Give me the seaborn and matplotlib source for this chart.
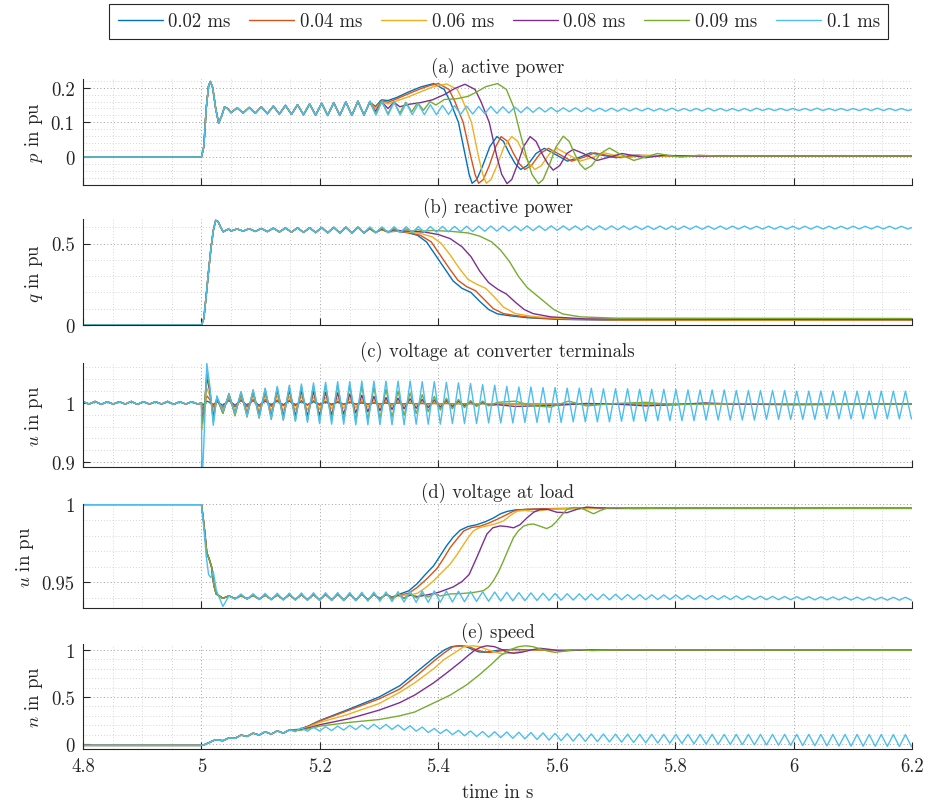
import numpy as np
import matplotlib
matplotlib.use("Agg")
import matplotlib.pyplot as plt
from matplotlib.ticker import MultipleLocator, FuncFormatter, FixedLocator
import seaborn as sns

# ---------------------------------------------------------------- labels
series_labels = ["0.02 ms", "0.04 ms", "0.06 ms", "0.08 ms", "0.09 ms", "0.1 ms"]
series_colors = ["#0072BD", "#D95319", "#EDB120", "#7E2F8E", "#77AC30", "#4DBEEE"]
panel_titles = ["(a) active power", "(b) reactive power",
                "(c) voltage at converter terminals", "(d) voltage at load", "(e) speed"]
panel_ylabels = [r"$p$ in pu", r"$q$ in pu", r"$u$ in pu", r"$u$ in pu", r"$n$ in pu"]
x_ticks = [4.8, 5.0, 5.2, 5.4, 5.6, 5.8, 6.0, 6.2]
y_ticks = [[0, 0.1, 0.2], [0, 0.5], [0.9, 1.0], [0.95, 1.0], [0, 0.5, 1.0]]
y_limits = [(-0.081, 0.225), (0.0, 0.65), (0.8915, 1.0675), (0.9335, 1.0003), (-0.053, 1.064)]
y_minor = [0.02, 0.1, 0.02, 0.01, 0.1]

HALF = 0.0102   # half period of the 49 Hz ripple: peaks/troughs read at these instants

# ================================================================ (a) p
a_pre = [(4.80, 0.0), (5.000, 0.0), (5.004, 0.03), (5.008, 0.14), (5.012, 0.205), (5.015, 0.218),
         (5.019, 0.20), (5.024, 0.14), (5.029, 0.098), (5.034, 0.118), (5.039, 0.145), (5.044, 0.14)]
a_com_lo = [0.128, 0.127, 0.126, 0.125, 0.124, 0.123, 0.122, 0.121, 0.120, 0.120, 0.120, 0.121]
a_com_hi = [0.142, 0.143, 0.145, 0.147, 0.149, 0.151, 0.153, 0.155, 0.157, 0.159, 0.161]
a_cy_hi = [0.162, 0.161, 0.159, 0.156, 0.153, 0.151, 0.149, 0.148, 0.147, 0.146,
           0.146, 0.145, 0.144, 0.144, 0.143, 0.143, 0.142, 0.142, 0.142, 0.141,
           0.141, 0.141, 0.141, 0.141, 0.140, 0.141, 0.140, 0.140, 0.141, 0.140,
           0.140, 0.140, 0.141, 0.140, 0.140, 0.140, 0.140, 0.141, 0.140, 0.140,
           0.140, 0.140, 0.141, 0.140, 0.140]
a_cy_lo = [0.121, 0.121, 0.121, 0.122, 0.122, 0.122, 0.123, 0.123, 0.124, 0.125,
           0.126, 0.127, 0.128, 0.129, 0.130, 0.130, 0.131, 0.131, 0.132, 0.132,
           0.132, 0.133, 0.133, 0.133, 0.133, 0.133, 0.133, 0.133, 0.133, 0.133,
           0.133, 0.133, 0.134, 0.134, 0.134, 0.134, 0.134, 0.134, 0.134, 0.134,
           0.134, 0.134, 0.134, 0.134, 0.134]
a_cy_end = [(6.2, 0.137)]
a_blue = [(5.284, 0.158), (5.294, 0.146), (5.304, 0.165), (5.315, 0.163), (5.33, 0.172), (5.35, 0.188),
          (5.37, 0.202), (5.392, 0.212), (5.41, 0.195), (5.42, 0.16), (5.434, 0.10), (5.446, 0.0),
          (5.452, -0.05), (5.457, -0.076), (5.465, -0.065), (5.475, -0.025), (5.487, 0.03), (5.499, 0.059),
          (5.51, 0.045), (5.52, 0.01), (5.53, -0.02), (5.539, -0.036), (5.55, -0.025), (5.565, 0.01),
          (5.579, 0.025), (5.595, 0.01), (5.618, -0.012), (5.64, 0.0), (5.657, 0.012), (5.68, 0.004),
          (5.70, -0.002), (5.73, 0.005), (5.76, 0.003), (6.2, 0.003)]
a_red = [(5.284, 0.157), (5.294, 0.144), (5.304, 0.162), (5.315, 0.158), (5.33, 0.168), (5.35, 0.183),
         (5.37, 0.197), (5.385, 0.206), (5.40, 0.212), (5.418, 0.195), (5.428, 0.16), (5.442, 0.10),
         (5.455, 0.0), (5.462, -0.05), (5.468, -0.076), (5.476, -0.065), (5.486, -0.025), (5.497, 0.03),
         (5.506, 0.059), (5.517, 0.045), (5.527, 0.01), (5.537, -0.02), (5.546, -0.036), (5.557, -0.025),
         (5.572, 0.01), (5.586, 0.025), (5.602, 0.01), (5.625, -0.012), (5.647, 0.0), (5.664, 0.012),
         (5.687, 0.004), (5.707, -0.002), (5.737, 0.005), (5.767, 0.003), (6.2, 0.003)]
a_yellow = [(5.284, 0.156), (5.294, 0.140), (5.304, 0.160), (5.315, 0.153), (5.33, 0.162), (5.35, 0.174),
            (5.37, 0.188), (5.39, 0.202), (5.414, 0.211), (5.432, 0.195), (5.442, 0.16), (5.456, 0.10),
            (5.468, 0.0), (5.475, -0.05), (5.481, -0.076), (5.489, -0.065), (5.499, -0.025), (5.511, 0.03),
            (5.524, 0.059), (5.534, 0.045), (5.544, 0.01), (5.554, -0.02), (5.563, -0.036), (5.574, -0.025),
            (5.588, 0.01), (5.60, 0.025), (5.616, 0.01), (5.64, -0.012), (5.662, 0.0), (5.68, 0.012),
            (5.70, 0.004), (5.72, -0.002), (5.75, 0.005), (5.78, 0.003), (6.2, 0.003)]
a_purple = [(5.284, 0.158), (5.294, 0.132), (5.304, 0.160), (5.315, 0.140), (5.325, 0.158), (5.335, 0.145),
            (5.35, 0.152), (5.37, 0.157), (5.39, 0.165), (5.41, 0.18), (5.428, 0.198), (5.445, 0.21),
            (5.462, 0.195), (5.472, 0.16), (5.486, 0.10), (5.499, 0.0), (5.507, -0.05), (5.516, -0.077),
            (5.524, -0.065), (5.533, -0.025), (5.544, 0.03), (5.555, 0.059), (5.565, 0.045), (5.575, 0.01),
            (5.585, -0.02), (5.594, -0.038), (5.605, -0.025), (5.617, 0.01), (5.628, 0.022), (5.645, 0.01),
            (5.668, -0.01), (5.69, 0.0), (5.71, 0.01), (5.73, 0.004), (5.75, -0.002), (5.78, 0.005),
            (5.81, 0.003), (6.2, 0.003)]
a_green = [(5.284, 0.160), (5.294, 0.124), (5.304, 0.160), (5.315, 0.125), (5.325, 0.158), (5.335, 0.127),
           (5.345, 0.158), (5.355, 0.130), (5.365, 0.157), (5.375, 0.135), (5.386, 0.16), (5.396, 0.150),
           (5.41, 0.166), (5.43, 0.168), (5.45, 0.175), (5.465, 0.188), (5.48, 0.203), (5.50, 0.212),
           (5.515, 0.195), (5.527, 0.145), (5.538, 0.07), (5.549, 0.0), (5.558, -0.05), (5.569, -0.077),
           (5.577, -0.065), (5.587, -0.025), (5.599, 0.03), (5.611, 0.06), (5.621, 0.045), (5.63, 0.01),
           (5.639, -0.02), (5.648, -0.036), (5.659, -0.025), (5.674, 0.01), (5.689, 0.026), (5.705, 0.01),
           (5.73, -0.01), (5.75, 0.0), (5.77, 0.01), (5.79, 0.004), (5.81, 0.0), (5.84, 0.005),
           (5.87, 0.003), (6.2, 0.003)]

# ================================================================ (b) q
b_pre = [(4.80, 0.0), (5.000, 0.0), (5.004, 0.04), (5.008, 0.18), (5.012, 0.33), (5.016, 0.47),
         (5.020, 0.58), (5.024, 0.642), (5.028, 0.635), (5.033, 0.595), (5.037, 0.572), (5.042, 0.583),
         (5.046, 0.588)]
b_com_lo = [0.577, 0.576, 0.574, 0.573, 0.571, 0.570, 0.568, 0.567, 0.566, 0.565, 0.564, 0.564]
b_com_hi = [0.589, 0.591, 0.592, 0.594, 0.595, 0.596, 0.597, 0.598, 0.599, 0.600, 0.600]
b_cy_hi = [0.602, 0.602, 0.603, 0.603, 0.604, 0.604, 0.605, 0.605, 0.606, 0.606,
           0.607, 0.607, 0.607, 0.608, 0.608, 0.608, 0.608, 0.608, 0.608, 0.608,
           0.608, 0.608, 0.607, 0.607, 0.607, 0.607, 0.607, 0.607, 0.607, 0.607,
           0.607, 0.607, 0.606, 0.606, 0.606, 0.606, 0.606, 0.606, 0.606, 0.606,
           0.606, 0.606, 0.606, 0.606, 0.606]
b_cy_lo = [0.565, 0.566, 0.567, 0.568, 0.569, 0.570, 0.572, 0.573, 0.574, 0.575,
           0.576, 0.577, 0.578, 0.579, 0.580, 0.581, 0.582, 0.582, 0.583, 0.584,
           0.584, 0.585, 0.585, 0.586, 0.586, 0.586, 0.587, 0.587, 0.587, 0.587,
           0.588, 0.588, 0.588, 0.588, 0.588, 0.588, 0.588, 0.589, 0.589, 0.589,
           0.589, 0.589, 0.589, 0.589, 0.589]
b_cy_end = [(6.2, 0.598)]
b_blue = [(5.284, 0.592), (5.294, 0.568), (5.304, 0.585), (5.315, 0.572), (5.33, 0.575), (5.35, 0.565),
          (5.365, 0.55), (5.38, 0.51), (5.395, 0.43), (5.41, 0.35), (5.425, 0.27), (5.44, 0.225),
          (5.455, 0.20), (5.47, 0.145), (5.485, 0.095), (5.50, 0.068), (5.52, 0.057), (5.55, 0.045),
          (5.60, 0.035), (5.70, 0.03), (6.2, 0.03)]
b_red = [(5.284, 0.592), (5.294, 0.568), (5.304, 0.585), (5.315, 0.573), (5.33, 0.577), (5.35, 0.568),
         (5.37, 0.55), (5.388, 0.51), (5.403, 0.43), (5.418, 0.35), (5.433, 0.275), (5.448, 0.235),
         (5.463, 0.21), (5.478, 0.155), (5.493, 0.10), (5.51, 0.07), (5.53, 0.058), (5.56, 0.045),
         (5.62, 0.035), (5.72, 0.03), (6.2, 0.03)]
b_yellow = [(5.284, 0.592), (5.294, 0.568), (5.304, 0.586), (5.315, 0.573), (5.33, 0.578), (5.35, 0.57),
            (5.37, 0.562), (5.39, 0.54), (5.405, 0.5), (5.42, 0.43), (5.435, 0.35), (5.45, 0.28),
            (5.465, 0.25), (5.48, 0.225), (5.495, 0.17), (5.51, 0.11), (5.53, 0.07), (5.56, 0.052),
            (5.60, 0.042), (5.70, 0.033), (6.2, 0.03)]
b_purple = [(5.284, 0.593), (5.294, 0.567), (5.304, 0.590), (5.315, 0.570), (5.325, 0.584), (5.34, 0.577),
            (5.36, 0.575), (5.38, 0.568), (5.40, 0.555), (5.42, 0.53), (5.44, 0.48), (5.455, 0.42),
            (5.47, 0.33), (5.485, 0.26), (5.50, 0.22), (5.515, 0.19), (5.53, 0.14), (5.545, 0.095),
            (5.56, 0.07), (5.59, 0.05), (5.65, 0.037), (6.2, 0.033)]
b_green = [(5.284, 0.598), (5.294, 0.566), (5.304, 0.597), (5.315, 0.567), (5.325, 0.594), (5.335, 0.570),
           (5.345, 0.590), (5.355, 0.573), (5.365, 0.586), (5.375, 0.576), (5.39, 0.58), (5.42, 0.575),
           (5.45, 0.565), (5.47, 0.545), (5.49, 0.51), (5.505, 0.46), (5.52, 0.39), (5.535, 0.30),
           (5.55, 0.23), (5.565, 0.185), (5.58, 0.14), (5.595, 0.095), (5.61, 0.068), (5.64, 0.05),
           (5.70, 0.042), (6.2, 0.04)]

# ================================================================ (c) u terminals
c_pre_hi = [1.002, 1.0025, 1.002, 1.002, 1.0025, 1.002, 1.002, 1.0025, 1.002, 1.002]
c_pre_lo = [0.998, 0.9975, 0.998, 0.998, 0.9975, 0.998, 0.998, 0.9975, 0.998, 0.998]
c_fault = {
    "blue":   [(5.0, 1.0), (5.001, 0.996), (5.005, 0.998), (5.009, 1.003), (5.014, 1.001), (5.02, 0.997), (5.026, 1.002)],
    "red":    [(5.0, 1.0), (5.001, 0.988), (5.005, 0.995), (5.009, 1.012), (5.014, 1.006), (5.02, 0.993), (5.026, 1.004)],
    "yellow": [(5.0, 1.0), (5.001, 0.955), (5.004, 0.975), (5.009, 1.025), (5.014, 1.013), (5.02, 0.985), (5.026, 1.006)],
    "purple": [(5.0, 1.0), (5.001, 0.975), (5.004, 0.985), (5.009, 1.043), (5.014, 1.02), (5.02, 0.975), (5.026, 1.008)],
    "green":  [(5.0, 1.0), (5.001, 0.965), (5.004, 0.98), (5.009, 1.052), (5.014, 1.025), (5.02, 0.968), (5.026, 1.010)],
    "cyan":   [(5.0, 1.0), (5.0008, 0.86), (5.004, 0.93), (5.009, 1.067), (5.014, 1.03), (5.02, 0.962), (5.026, 1.012)],
}
c_lo = {
    "blue":   [0.996, 0.996, 0.996, 0.996, 0.997, 0.997, 0.997, 0.997, 0.998, 0.998, 0.998, 0.998,
               0.998, 0.998, 0.998, 0.998, 0.998, 0.998, 0.998, 0.998, 0.998, 0.998, 0.998],
    "red":    [0.992, 0.993, 0.993, 0.994, 0.994, 0.995, 0.995, 0.996, 0.996, 0.996, 0.997, 0.997,
               0.997, 0.997, 0.998, 0.998, 0.998, 0.998, 0.998, 0.998, 0.998, 0.998, 0.998],
    "yellow": [0.988, 0.987, 0.987, 0.987, 0.987, 0.987, 0.988, 0.988, 0.989, 0.990, 0.991, 0.992,
               0.993, 0.994, 0.995, 0.995, 0.996, 0.996, 0.997, 0.997, 0.997, 0.998, 0.998],
    "purple": [0.983, 0.981, 0.980, 0.979, 0.978, 0.978, 0.978, 0.978, 0.979, 0.980, 0.981, 0.983,
               0.985, 0.987, 0.989, 0.990, 0.991, 0.992, 0.993, 0.994, 0.995, 0.995, 0.996],
    "green":  [0.982, 0.978, 0.976, 0.974, 0.972, 0.971, 0.970, 0.970, 0.970, 0.970, 0.970, 0.971,
               0.972, 0.974, 0.976, 0.979, 0.982, 0.985, 0.988, 0.990, 0.992, 0.994, 0.995],
    "cyan":   [0.986, 0.982, 0.978, 0.975, 0.973, 0.971, 0.969, 0.967, 0.965, 0.964,
               0.964, 0.963, 0.963, 0.963, 0.963, 0.963, 0.964, 0.964, 0.964, 0.965,
               0.965, 0.965, 0.966, 0.966, 0.966, 0.967, 0.967, 0.967, 0.967, 0.968,
               0.968, 0.968, 0.968, 0.969, 0.969, 0.969, 0.970, 0.970, 0.970, 0.970,
               0.971, 0.971, 0.971, 0.971, 0.971, 0.972, 0.972, 0.972, 0.972, 0.972,
               0.973, 0.973, 0.973, 0.973, 0.973, 0.973, 0.973, 0.973],
}
c_hi = {
    "blue":   [1.004, 1.004, 1.004, 1.003, 1.003, 1.003, 1.002, 1.002, 1.001, 1.001, 1.001,
               1.000, 1.000, 1.000, 1.000, 1.000, 1.000, 1.000, 1.000, 0.999, 0.999, 0.999],
    "red":    [1.007, 1.007, 1.006, 1.006, 1.005, 1.005, 1.004, 1.004, 1.003, 1.003, 1.002,
               1.002, 1.001, 1.001, 1.000, 1.000, 0.999, 0.999, 0.999, 0.999, 0.999, 0.999],
    "yellow": [1.010, 1.011, 1.012, 1.012, 1.012, 1.011, 1.011, 1.010, 1.009, 1.008, 1.007,
               1.006, 1.005, 1.004, 1.003, 1.002, 1.002, 1.001, 1.001, 1.000, 1.000, 0.999],
    "purple": [1.015, 1.017, 1.019, 1.020, 1.021, 1.021, 1.020, 1.019, 1.018, 1.017, 1.015,
               1.013, 1.011, 1.009, 1.008, 1.007, 1.006, 1.005, 1.004, 1.003, 1.002, 1.001],
    "green":  [1.016, 1.019, 1.022, 1.024, 1.026, 1.027, 1.028, 1.029, 1.030, 1.030, 1.029,
               1.028, 1.026, 1.023, 1.020, 1.017, 1.014, 1.011, 1.008, 1.006, 1.004, 1.003],
    "cyan":   [1.014, 1.018, 1.022, 1.025, 1.028, 1.030, 1.032, 1.034, 1.035, 1.036,
               1.036, 1.037, 1.037, 1.037, 1.037, 1.037, 1.036, 1.036, 1.035, 1.034,
               1.033, 1.031, 1.030, 1.028, 1.027, 1.027, 1.026, 1.026, 1.025, 1.025,
               1.025, 1.024, 1.024, 1.024, 1.023, 1.023, 1.023, 1.023, 1.022, 1.022,
               1.022, 1.022, 1.021, 1.021, 1.021, 1.021, 1.021, 1.020, 1.020, 1.020,
               1.020, 1.020, 1.020, 1.020, 1.020, 1.020, 1.020],
}
c_tail = {
    "blue":   [(5.52, 0.998), (5.6, 0.998), (6.2, 0.998)],
    "red":    [(5.52, 0.998), (6.2, 0.998)],
    "yellow": [(5.52, 0.998), (6.2, 0.998)],
    "purple": [(5.50, 0.997), (5.53, 0.994), (5.56, 0.995), (5.60, 0.996), (5.65, 0.999), (5.70, 0.998),
               (5.75, 0.995), (5.80, 0.997), (5.85, 1.0), (5.9, 0.998), (6.0, 0.997), (6.2, 0.998)],
    "green":  [(5.50, 1.001), (5.53, 1.003), (5.56, 0.995), (5.59, 0.993), (5.62, 1.003), (5.65, 0.995),
               (5.70, 0.999), (5.75, 1.001), (5.8, 0.997), (5.9, 0.999), (6.0, 0.998), (6.2, 0.998)],
    "cyan":   [],
}

# ================================================================ (d) u load
d_pre = [(4.8, 1.0), (5.0, 1.0), (5.004, 0.988), (5.009, 0.969), (5.013, 0.965), (5.017, 0.96),
         (5.021, 0.948), (5.025, 0.9425)]
d_cy_pre = [(4.8, 1.0), (5.0, 1.0), (5.004, 0.985), (5.008, 0.967), (5.012, 0.955), (5.016, 0.953),
            (5.02, 0.957), (5.025, 0.945)]
d_com_lo = [0.9397, 0.9395, 0.9394, 0.9392, 0.9391, 0.9390, 0.9389, 0.9388, 0.9387, 0.9387, 0.9386, 0.9386, 0.9387]
d_com_hi = [0.9413, 0.9415, 0.9417, 0.9418, 0.9419, 0.9420, 0.9421, 0.9422, 0.9423, 0.9424, 0.9425, 0.9426]
d_cy_lo = [0.9345, 0.9392, 0.9390, 0.9388, 0.9386, 0.9385, 0.9384, 0.9383, 0.9383, 0.9382,
           0.9381, 0.9380, 0.9379, 0.9378, 0.9376, 0.9373, 0.9371, 0.9371, 0.9372, 0.9373,
           0.9375, 0.9377, 0.9378, 0.9380, 0.9381, 0.9382, 0.9383, 0.9384, 0.9385, 0.9386,
           0.9386, 0.9387, 0.9387, 0.9388, 0.9388, 0.9388, 0.9389, 0.9389, 0.9389, 0.9389,
           0.9389, 0.9389, 0.9389, 0.9389, 0.9389, 0.9388, 0.9388, 0.9388, 0.9388, 0.9387,
           0.9387, 0.9387, 0.9386, 0.9386, 0.9386, 0.9385, 0.9385, 0.9385]
d_cy_hi = [0.9412, 0.9425, 0.9427, 0.9429, 0.9430, 0.9431, 0.9432, 0.9433, 0.9433, 0.9434,
           0.9435, 0.9436, 0.9437, 0.9438, 0.9440, 0.9443, 0.9445, 0.9445, 0.9444, 0.9443,
           0.9441, 0.9439, 0.9438, 0.9436, 0.9434, 0.9432, 0.9430, 0.9428, 0.9427, 0.9426,
           0.9425, 0.9424, 0.9423, 0.9422, 0.9421, 0.9420, 0.9419, 0.9418, 0.9417, 0.9416,
           0.9415, 0.9414, 0.9413, 0.9412, 0.9411, 0.9410, 0.9409, 0.9408, 0.9408, 0.9407,
           0.9406, 0.9406, 0.9405, 0.9405, 0.9404, 0.9404, 0.9404]
d_tail = {
    "blue":   [(5.291, 0.9424), (5.301, 0.9395), (5.312, 0.9422), (5.322, 0.9405), (5.335, 0.9425), (5.35, 0.9445),
               (5.364, 0.949), (5.378, 0.955), (5.392, 0.9606), (5.403, 0.967), (5.414, 0.9735), (5.425, 0.979),
               (5.437, 0.9835), (5.45, 0.9858), (5.465, 0.987), (5.48, 0.989), (5.493, 0.9913), (5.505, 0.994),
               (5.516, 0.9955), (5.53, 0.9965), (5.55, 0.9968), (5.58, 0.9972), (5.65, 0.9975), (6.2, 0.9975)],
    "red":    [(5.291, 0.9424), (5.301, 0.9395), (5.312, 0.9422), (5.322, 0.9403), (5.335, 0.9418), (5.35, 0.943),
               (5.364, 0.9466), (5.38, 0.952), (5.398, 0.959), (5.41, 0.966), (5.42, 0.9723), (5.432, 0.978),
               (5.443, 0.983), (5.456, 0.9852), (5.47, 0.986), (5.485, 0.988), (5.499, 0.9904), (5.513, 0.993),
               (5.527, 0.9957), (5.545, 0.9968), (5.561, 0.997), (5.6, 0.9974), (5.65, 0.9975), (6.2, 0.9975)],
    "yellow": [(5.291, 0.9424), (5.301, 0.9393), (5.312, 0.9421), (5.322, 0.9400), (5.335, 0.9415), (5.35, 0.9418),
               (5.365, 0.943), (5.38, 0.947), (5.392, 0.951), (5.405, 0.956), (5.42, 0.9617), (5.432, 0.968),
               (5.443, 0.9745), (5.451, 0.979), (5.459, 0.983), (5.47, 0.9852), (5.482, 0.9862), (5.496, 0.9875),
               (5.51, 0.9894), (5.522, 0.993), (5.533, 0.9957), (5.547, 0.9962), (5.561, 0.9955), (5.575, 0.9962),
               (5.589, 0.997), (5.62, 0.9974), (6.2, 0.9975)],
    "purple": [(5.291, 0.9425), (5.301, 0.9392), (5.312, 0.9424), (5.322, 0.9395), (5.332, 0.942), (5.342, 0.9398),
               (5.352, 0.9418), (5.365, 0.9408), (5.38, 0.9418), (5.40, 0.9435), (5.425, 0.947), (5.44, 0.9505),
               (5.452, 0.955), (5.465, 0.966), (5.474, 0.974), (5.482, 0.981), (5.492, 0.985), (5.504, 0.9862),
               (5.516, 0.9858), (5.527, 0.985), (5.538, 0.987), (5.55, 0.9915), (5.561, 0.995), (5.572, 0.9968),
               (5.585, 0.9968), (5.60, 0.995), (5.617, 0.9947), (5.635, 0.997), (5.651, 0.9983), (5.67, 0.9978),
               (5.70, 0.9975), (6.2, 0.9975)],
    "green":  [(5.291, 0.9426), (5.301, 0.9390), (5.312, 0.9426), (5.322, 0.9392), (5.332, 0.9425), (5.342, 0.9395),
               (5.352, 0.9426), (5.363, 0.9400), (5.373, 0.9427), (5.383, 0.9405), (5.393, 0.9428), (5.403, 0.9412),
               (5.42, 0.9425), (5.44, 0.9428), (5.46, 0.9435), (5.476, 0.9446), (5.485, 0.947), (5.493, 0.951),
               (5.502, 0.957), (5.51, 0.9638), (5.518, 0.971), (5.527, 0.9787), (5.535, 0.983), (5.544, 0.9861),
               (5.553, 0.9872), (5.561, 0.9874), (5.572, 0.986), (5.583, 0.9845), (5.592, 0.9862), (5.60, 0.9893),
               (5.608, 0.993), (5.617, 0.9968), (5.628, 0.998), (5.64, 0.9979), (5.651, 0.996), (5.662, 0.994),
               (5.673, 0.996), (5.685, 0.9977), (5.70, 0.9978), (5.73, 0.9974), (5.78, 0.9976), (6.2, 0.9975)],
}

# ================================================================ (e) n speed
e_pre = [(4.8, -0.015), (5.0, -0.015), (5.006, -0.005), (5.012, 0.012), (5.018, 0.03), (5.024, 0.045)]
e_com_lo = [0.035, 0.06, 0.08, 0.095, 0.105, 0.115]
e_com_hi = [0.065, 0.095, 0.115, 0.13, 0.14, 0.15]
e_cy_lo = [0.130, 0.135, 0.138, 0.143, 0.148, 0.153, 0.157, 0.159, 0.155, 0.148,
           0.136, 0.122, 0.111, 0.099, 0.088, 0.080, 0.073, 0.068, 0.061, 0.054,
           0.048, 0.041, 0.035, 0.031, 0.028, 0.025, 0.022, 0.019, 0.016, 0.013,
           0.010, 0.008, 0.005, 0.002, 0.000, -0.003, -0.005, -0.007, -0.009, -0.011,
           -0.013, -0.015, -0.017, -0.019, -0.020, -0.022, -0.023, -0.024, -0.025, -0.026,
           -0.028, -0.029]
e_cy_hi = [0.172, 0.178, 0.183, 0.190, 0.197, 0.204, 0.210, 0.208, 0.202, 0.194,
           0.180, 0.165, 0.155, 0.145, 0.138, 0.132, 0.130, 0.128, 0.125, 0.122,
           0.118, 0.113, 0.110, 0.108, 0.107, 0.106, 0.105, 0.104, 0.103, 0.103,
           0.102, 0.102, 0.102, 0.102, 0.102, 0.102, 0.102, 0.102, 0.102, 0.102,
           0.102, 0.102, 0.102, 0.102, 0.102, 0.102, 0.102, 0.101, 0.101, 0.101,
           0.101]
e_tail = {
    "blue":   [(5.165, 0.155), (5.18, 0.19), (5.2, 0.25), (5.245, 0.36), (5.30, 0.50), (5.335, 0.62),
               (5.364, 0.77), (5.392, 0.915), (5.41, 1.0), (5.422, 1.035), (5.435, 1.045), (5.447, 1.035),
               (5.458, 1.005), (5.468, 0.98), (5.48, 0.975), (5.493, 0.99), (5.51, 1.003), (5.53, 1.005),
               (5.56, 0.998), (5.6, 1.0), (6.2, 0.997)],
    "red":    [(5.165, 0.153), (5.18, 0.187), (5.2, 0.245), (5.245, 0.35), (5.30, 0.48), (5.335, 0.585),
               (5.364, 0.73), (5.392, 0.88), (5.41, 0.97), (5.425, 1.035), (5.44, 1.045), (5.452, 1.035),
               (5.465, 1.0), (5.475, 0.982), (5.487, 0.975), (5.50, 0.985), (5.515, 1.0), (5.535, 1.005),
               (5.56, 1.0), (5.6, 0.998), (6.2, 0.997)],
    "yellow": [(5.165, 0.15), (5.18, 0.18), (5.2, 0.23), (5.245, 0.31), (5.30, 0.43), (5.335, 0.55),
               (5.36, 0.65), (5.392, 0.80), (5.41, 0.90), (5.425, 0.96), (5.443, 1.035), (5.458, 1.045),
               (5.47, 1.035), (5.48, 1.01), (5.49, 0.99), (5.50, 0.97), (5.51, 0.96), (5.52, 0.965),
               (5.535, 0.98), (5.55, 0.995), (5.57, 1.003), (5.6, 1.0), (6.2, 0.997)],
    "purple": [(5.165, 0.148), (5.18, 0.17), (5.2, 0.205), (5.25, 0.27), (5.30, 0.36), (5.335, 0.44),
               (5.36, 0.52), (5.392, 0.65), (5.415, 0.76), (5.437, 0.87), (5.45, 0.94), (5.462, 1.0),
               (5.472, 1.03), (5.482, 1.045), (5.495, 1.035), (5.505, 1.01), (5.515, 0.98), (5.527, 0.965),
               (5.54, 0.975), (5.555, 0.998), (5.572, 1.018), (5.59, 1.005), (5.605, 0.99), (5.625, 0.995),
               (5.65, 1.0), (5.7, 0.998), (6.2, 0.997)],
    "green":  [(5.165, 0.145), (5.18, 0.16), (5.2, 0.19), (5.25, 0.23), (5.30, 0.26), (5.335, 0.30),
               (5.36, 0.34), (5.39, 0.43), (5.42, 0.52), (5.448, 0.63), (5.47, 0.74), (5.49, 0.85),
               (5.505, 0.94), (5.52, 1.0), (5.535, 1.035), (5.548, 1.045), (5.56, 1.035), (5.572, 1.012),
               (5.585, 0.988), (5.597, 0.975), (5.61, 0.985), (5.625, 1.0), (5.64, 1.003), (5.66, 0.993),
               (5.68, 0.998), (5.72, 1.0), (6.2, 0.997)],
}

names = ["blue", "red", "yellow", "purple", "green", "cyan"]


# ---------------------------------------------------------------- helpers
def seg(pairs):
    if not pairs:
        return np.array([]), np.array([])
    t, v = zip(*pairs)
    return np.asarray(t, float), np.asarray(v, float)


def osc(t0, first, second):
    """Interleave the read-off extreme values (first, second, first, ...) at the ripple instants."""
    f, s = list(first), list(second)
    if len(f) > len(s) + 1:
        f = f[:len(s) + 1]
    if len(s) > len(f):
        s = s[:len(f)]
    n = len(f) + len(s)
    v = np.empty(n)
    v[0::2] = f
    v[1::2] = s
    t = t0 + HALF * np.arange(n)
    return t, v


def join(*parts):
    return (np.concatenate([p[0] for p in parts]), np.concatenate([p[1] for p in parts]))


curves = [dict() for _ in range(5)]
# (a)
a_tails = {"blue": a_blue, "red": a_red, "yellow": a_yellow, "purple": a_purple, "green": a_green}
b_tails = {"blue": b_blue, "red": b_red, "yellow": b_yellow, "purple": b_purple, "green": b_green}
for nm in names:
    if nm == "cyan":
        curves[0][nm] = join(seg(a_pre), osc(5.05, a_com_lo, a_com_hi), osc(5.2846, a_cy_hi, a_cy_lo), seg(a_cy_end))
        curves[1][nm] = join(seg(b_pre), osc(5.05, b_com_lo, b_com_hi), osc(5.2846, b_cy_hi, b_cy_lo), seg(b_cy_end))
        curves[3][nm] = join(seg(d_cy_pre), osc(5.0362, d_cy_lo, d_cy_hi))
        curves[4][nm] = join(seg(e_pre), osc(5.0362, e_com_lo, e_com_hi), osc(5.1586, e_cy_lo, e_cy_hi))
    else:
        curves[0][nm] = join(seg(a_pre), osc(5.05, a_com_lo, a_com_hi), seg(a_tails[nm]))
        curves[1][nm] = join(seg(b_pre), osc(5.05, b_com_lo, b_com_hi), seg(b_tails[nm]))
        curves[3][nm] = join(seg(d_pre), osc(5.0362, d_com_lo, d_com_hi), seg(d_tail[nm]))
        curves[4][nm] = join(seg(e_pre), osc(5.0362, e_com_lo, e_com_hi), seg(e_tail[nm]))
    parts = [osc(4.80, c_pre_hi, c_pre_lo), seg(c_fault[nm]), osc(5.0362, c_lo[nm], c_hi[nm])]
    if c_tail[nm]:
        parts.append(seg(c_tail[nm]))
    curves[2][nm] = join(*parts)

# ---------------------------------------------------------------- style
sns.set_theme(style="white")
TXT = "#262626"
plt.rcParams.update({
    "font.family": ["cmr10", "DejaVu Serif"],
    "mathtext.fontset": "cm",
    "axes.formatter.use_mathtext": True,
    "axes.unicode_minus": False,
    "text.color": TXT,
    "axes.labelcolor": TXT,
    "xtick.color": TXT,
    "ytick.color": TXT,
})
FS = 13.5

fig = plt.figure(figsize=(9.34, 8.12), dpi=100)
positions = [[0.0889, 0.7709, 0.8876, 0.1305],
             [0.0889, 0.5985, 0.8876, 0.1305],
             [0.0889, 0.4236, 0.8876, 0.1281],
             [0.0889, 0.2500, 0.8876, 0.1281],
             [0.0889, 0.0764, 0.8876, 0.1293]]
fmt = FuncFormatter(lambda v, p: f"{v:g}")

axes = []
for i in range(5):
    ax = fig.add_axes(positions[i])
    axes.append(ax)
    for nm, lab, col in zip(names, series_labels, series_colors):
        t, v = curves[i][nm]
        sns.lineplot(x=t, y=v, ax=ax, color=col, linewidth=1.0, estimator=None, sort=False,
                     label=lab if i == 0 else None, legend=False)
    if ax.get_legend() is not None:
        ax.get_legend().remove()
    ax.set_xlim(4.8, 6.2)
    ax.set_ylim(*y_limits[i])
    ax.xaxis.set_major_locator(FixedLocator(x_ticks))
    ax.xaxis.set_minor_locator(MultipleLocator(0.05))
    ax.yaxis.set_major_locator(FixedLocator(y_ticks[i]))
    ax.yaxis.set_minor_locator(MultipleLocator(y_minor[i]))
    ax.yaxis.set_major_formatter(fmt)
    ax.xaxis.set_major_formatter(fmt)
    ax.grid(which="major", linestyle=(0, (1, 2.5)), color="#a0a0a0", linewidth=0.7)
    ax.grid(which="minor", linestyle=(0, (1, 2.5)), color="#c8c8c8", linewidth=0.6)
    ax.set_axisbelow(True)
    ax.tick_params(which="major", direction="in", length=5, width=0.8, labelsize=FS, pad=6,
                   top=False, right=False, bottom=True, left=True)
    ax.tick_params(which="minor", length=0)
    for sp in ["top", "right"]:
        ax.spines[sp].set_visible(False)
    for sp in ["left", "bottom"]:
        ax.spines[sp].set_color(TXT)
        ax.spines[sp].set_linewidth(0.8)
    ax.set_title(panel_titles[i], fontsize=FS, pad=5)
    ax.set_ylabel(panel_ylabels[i], fontsize=FS, labelpad=4)
    ax.set_xlabel("")
    if i < 4:
        ax.tick_params(axis="x", labelbottom=False)

axes[-1].set_xlabel("time in s", fontsize=FS, labelpad=6)

handles = axes[0].get_lines()[:6]
leg = fig.legend(handles, series_labels, loc="upper center", bbox_to_anchor=(0.534, 0.994),
                 ncol=6, fontsize=FS, frameon=True, fancybox=False, framealpha=1,
                 edgecolor=TXT, handlelength=2.4, handletextpad=0.3, columnspacing=1.0,
                 borderpad=0.45, borderaxespad=0.0)
leg.get_frame().set_linewidth(0.8)

fig.savefig("out.png", dpi=100)
